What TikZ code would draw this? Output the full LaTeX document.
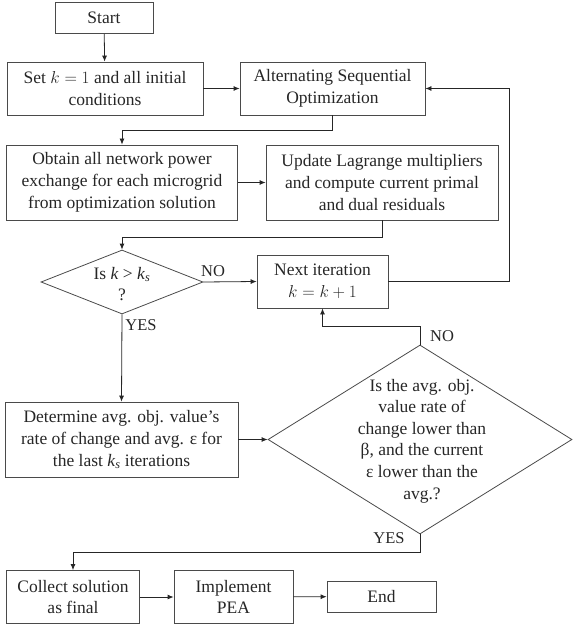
\documentclass[tikz,border=0pt]{standalone}
\usepackage{fontspec}
\setmainfont{Liberation Serif}
\usepackage{tikz}
\usetikzlibrary{arrows.meta,shapes.geometric}
\definecolor{lineclr}{HTML}{4A4A4A}
\definecolor{txtclr}{HTML}{262626}

\begin{document}
\begin{tikzpicture}[
  x=1pt, y=-1pt,
  box/.style={rectangle, draw=lineclr, line width=0.8pt, align=center, inner sep=0pt, font=\fontsize{17.5}{21.8}\selectfont, text=txtclr},
  decision/.style={diamond, draw=lineclr, line width=0.8pt, inner sep=0pt},
  dtext/.style={align=center, inner sep=0pt, font=\fontsize{17.5}{21.6}\selectfont, text=txtclr},
  lbl/.style={inner sep=0pt, font=\fontsize{16.5}{18}\selectfont, text=txtclr},
  arrow/.style={-{Latex[length=6pt,width=5pt]}, line width=0.8pt, draw=black!85},
]
  \useasboundingbox (0,0) rectangle (572,628);

  % Top rows
  \node[box, minimum width=98, minimum height=31] (start) at (104,18) {Start};
  \node[box, minimum width=196, minimum height=53] (init) at (105,88.5) {Set $k = 1$ and all initial\\conditions};
  \node[box, minimum width=185, minimum height=53] (aso) at (332.5,88.5) {Alternating Sequential\\Optimization};
  \node[box, minimum width=231, minimum height=75] (obtain) at (122,182.5) {Obtain all network power\\exchange for each microgrid\\from optimization solution};
  \node[box, minimum width=232, minimum height=75] (update) at (382,182.5) {Update Lagrange multipliers\\and compute current primal\\and dual residuals};

  % First check
  \node[decision, minimum width=162, minimum height=64] (check1) at (122,282) {};
  \node[dtext] (check1txt) at (122,284) {Is \textit{k} > \textit{k}\textsubscript{\textit{s}}\\?};
  \node[box, minimum width=131, minimum height=53] (next) at (322.5,281.5) {Next iteration\\$k = k + 1$};
  \node[box, minimum width=233, minimum height=75] (determine) at (121.5,439.5) {Determine avg. obj. value’s\\rate of change and avg. ε for\\the last \textit{k}\textsubscript{\textit{s}} iterations};

  % Second check
  \node[decision, minimum width=304, minimum height=189] (check2) at (420,439.5) {};
  \node[dtext] (check2txt) at (422,441) {Is the avg. obj.\\value rate of\\change lower than\\β, and the current\\ε lower than the\\avg.?};

  % Bottom row
  \node[box, minimum width=133, minimum height=53] (collect) at (73,597) {Collect solution\\as final};
  \node[box, minimum width=119, minimum height=53] (implement) at (233.5,597) {Implement\\PEA};
  \node[box, minimum width=109, minimum height=31] (finish) at (381.5,596.5) {End};

  \draw[arrow] (start) -- (init);
  \draw[arrow] (init) -- (aso);
  \draw[arrow] (aso.south) -- ++(0,15) -| (obtain.north);
  \draw[arrow] (obtain) -- (update);
  \draw[arrow] (update.south) -- ++(0,17) -| (check1.north);
  \draw[arrow] (check1.east) -- (next.west);
  \draw[arrow] (next.east) -- ++(121,0) |- (aso.east);
  \draw[arrow] (check1.south) -- (determine.north);
  \draw[arrow] (determine.east) -- (check2.west);
  \draw[arrow] (check2.north) -- ++(0,-18) -| (next.south);
  \draw[arrow] (check2.south) -- ++(0,18) -| (collect.north);
  \draw[arrow] (collect) -- (implement);
  \draw[arrow] (implement) -- (finish);

  % Labels
  \node[lbl] (no1) at (213,271) {NO};
  \node[lbl] (yes1) at (141,325) {YES};
  \node[lbl] (no2) at (442,336) {NO};
  \node[lbl] (yes2) at (389,538) {YES};
\end{tikzpicture}
\end{document}
